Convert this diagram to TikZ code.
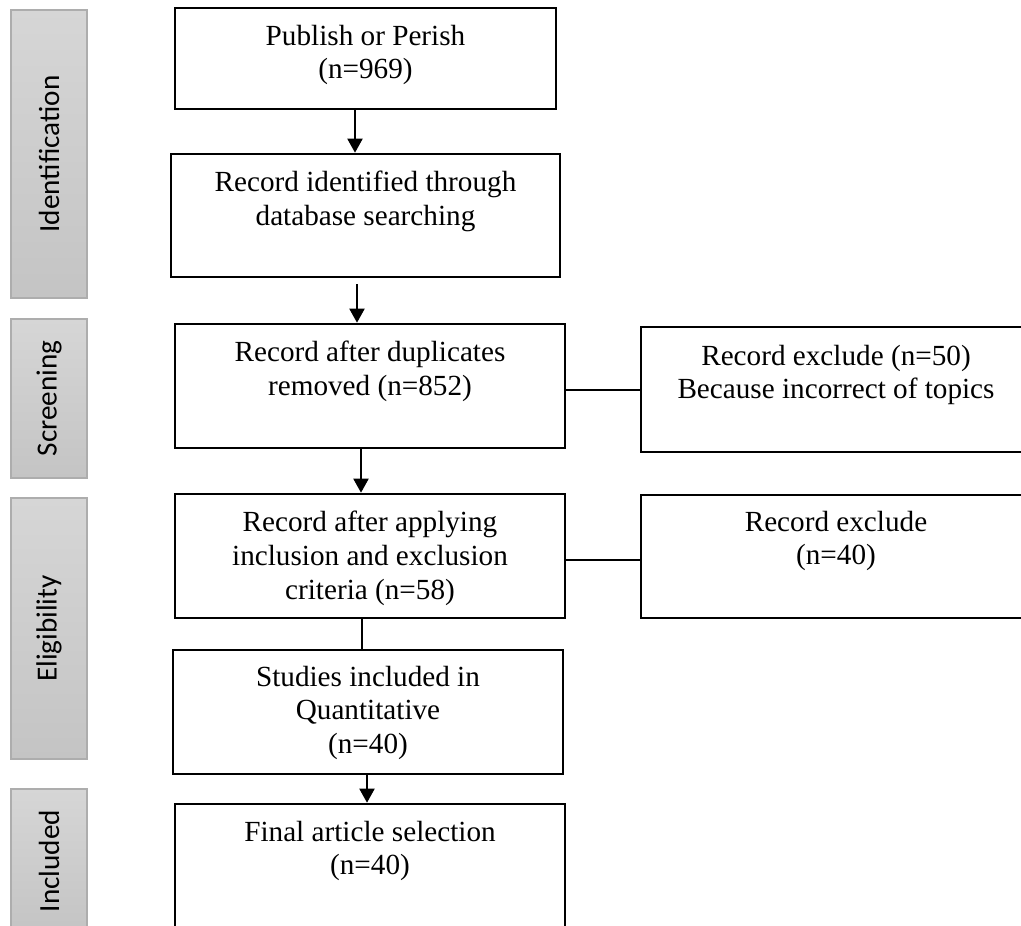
\documentclass[tikz,border=0pt]{standalone}
\usepackage{fontspec}
\setmainfont{Liberation Serif}
\newfontfamily\barfont{Carlito}
\usetikzlibrary{arrows.meta}
\definecolor{bartop}{HTML}{D6D6D6}
\definecolor{barbot}{HTML}{C4C4C4}
\definecolor{barline}{HTML}{ADADAD}
\begin{document}
\begin{tikzpicture}[x=1pt,y=-1pt,
  box/.style={draw, line width=2.6pt, rectangle, inner sep=0pt},
  lbl/.style={anchor=north, align=center, inner sep=0pt, font=\fontsize{29.2}{33.8}\selectfont},
  bar/.style={draw=barline, line width=1.2pt, top color=bartop, bottom color=barbot, rectangle, inner sep=0pt, minimum width=76pt},
  barlbl/.style={rotate=90, inner sep=0pt, font=\barfont\fontsize{29.2}{35}\selectfont},
  arr/.style={line width=2pt, -{Triangle[length=14pt,width=15pt]}},
  con/.style={line width=2pt}]
\useasboundingbox (0,0) rectangle (1021,926);
\fill[white] (0,0) rectangle (1021,926);

% stage bars
\node[bar, minimum height=288pt] (g1) at (49,154) {};
\node[bar, minimum height=159pt] (g2) at (49,398.5) {};
\node[bar, minimum height=261pt] (g3) at (49,628.5) {};
\node[bar, minimum height=144pt] (g4) at (49,861) {};
\node[barlbl] (gl1) at (g1.center) {Identification};
\node[barlbl] (gl2) at (g2.center) {Screening};
\node[barlbl] (gl3) at (g3.center) {Eligibility};
\node[barlbl] (gl4) at (g4.center) {Included};

% main boxes
\node[box, minimum width=381pt, minimum height=101pt] (b1) at (365.5,58.5) {};
\node[box, minimum width=389pt, minimum height=123pt] (b2) at (365.5,215.5) {};
\node[box, minimum width=390pt, minimum height=124pt] (b3) at (370,386) {};
\node[box, minimum width=390pt, minimum height=124pt] (b4) at (370,556) {};
\node[box, minimum width=390pt, minimum height=124pt] (b5) at (368,712) {};
\node[box, minimum width=390pt, minimum height=160pt] (b6) at (370,884) {};
% exclusion boxes
\node[box, minimum width=390pt, minimum height=125pt] (r1) at (836,389.5) {};
\node[box, minimum width=390pt, minimum height=123pt] (r2) at (836,556.5) {};

% labels
\node[lbl] (t1) at ([yshift=-18pt]b1.north) {Publish or Perish\\(n=969)};
\node[lbl] (t2) at ([yshift=-18pt]b2.north) {Record identified through\\database searching};
\node[lbl] (t3) at ([yshift=-18pt]b3.north) {Record after duplicates\\removed (n=852)};
\node[lbl] (t4) at ([yshift=-18pt]b4.north) {Record after applying\\inclusion and exclusion\\criteria (n=58)};
\node[lbl] (t5) at ([yshift=-17pt]b5.north) {Studies included in\\Quantitative\\(n=40)};
\node[lbl] (t6) at ([yshift=-18pt]b6.north) {Final article selection\\(n=40)};
\node[lbl] (tr1) at ([yshift=-19pt]r1.north) {Record exclude (n=50)\\Because incorrect of topics};
\node[lbl] (tr2) at ([yshift=-17pt]r2.north) {Record exclude\\(n=40)};

% connectors
\draw[arr] ([xshift=-10.5pt]b1.south) -- ([xshift=-10.5pt]b2.north);
\draw[arr, shorten <=6pt] ([xshift=-8.5pt]b2.south) -- ([xshift=-13pt]b3.north);
\draw[arr] ([xshift=-9pt]b3.south) -- ([xshift=-9pt]b4.north);
\draw[con] ([xshift=-8pt]b4.south) -- ([xshift=-6pt]b5.north);
\draw[arr] ([xshift=-1pt]b5.south) -- ([xshift=-3pt]b6.north);
\draw[con] (b3.east |- r1.west) -- (r1.west);
\draw[con] ([yshift=-3pt]r2.west -| b4.east) -- ([yshift=-3pt]r2.west);
\end{tikzpicture}
\end{document}
